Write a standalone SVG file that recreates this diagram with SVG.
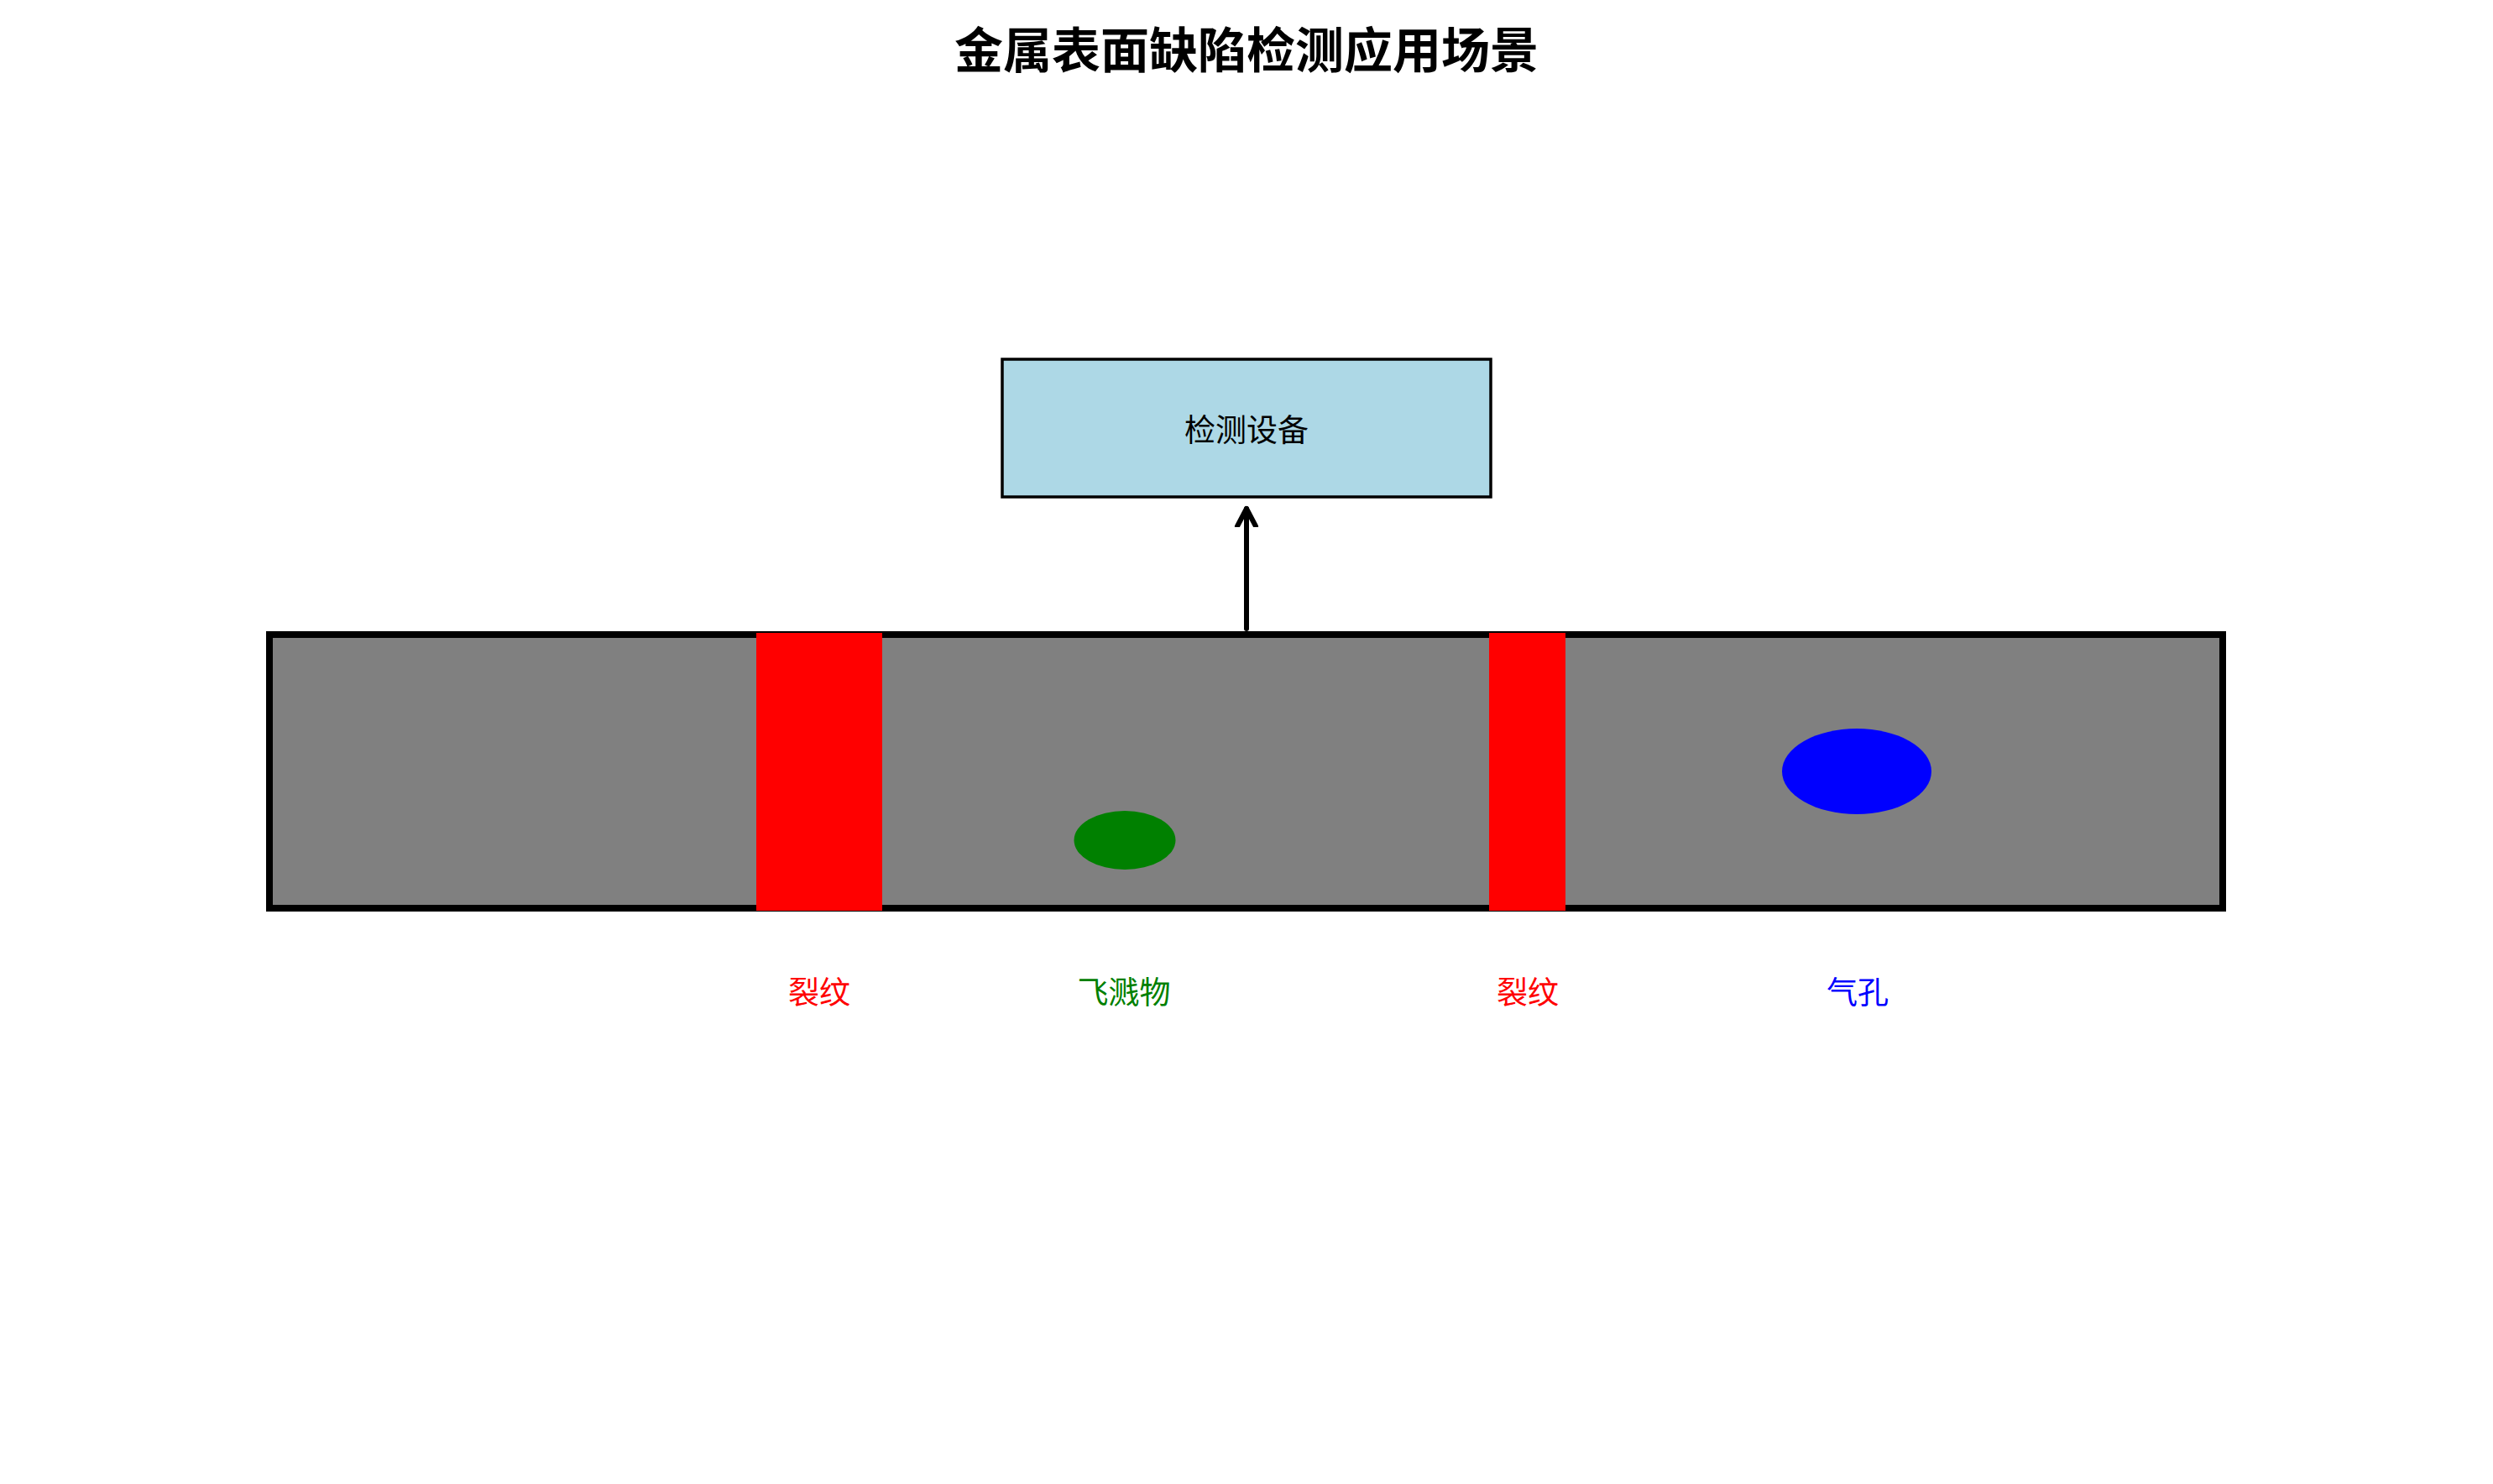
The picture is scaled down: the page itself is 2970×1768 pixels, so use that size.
<svg xmlns="http://www.w3.org/2000/svg" width="2970" height="1768" viewBox="0 0 2970 1768">
<style>
text{font-family:"Noto Sans CJK SC","Noto Sans",sans-serif;text-anchor:middle;dominant-baseline:central}
.title{font-size:58px;font-weight:bold;fill:#000}
.lbl{font-size:37px}
.crack{fill:#ff0000}
</style>
<defs>
<marker id="arr" markerUnits="userSpaceOnUse" markerWidth="30" markerHeight="30" viewBox="0 0 30 30" refX="22" refY="15" orient="auto">
<path d="M1,4 L22,15 L1,26" fill="none" stroke="#000" stroke-width="6" stroke-linecap="round" stroke-linejoin="round"/>
</marker>
</defs>
<rect width="2970" height="1768" fill="#fff"/>
<text class="title" x="1485" y="56">金属表面缺陷检测应用场景</text>
<g id="metal">
<rect x="321" y="756" width="2327" height="326" fill="#808080" stroke="#000" stroke-width="8"/>
</g>
<g id="crack1"><rect class="crack" x="901" y="754" width="150" height="331"/></g>
<g id="crack2"><rect class="crack" x="1774" y="754" width="91" height="331"/></g>
<g id="spatter"><ellipse cx="1340" cy="1001" rx="60.5" ry="35" fill="#008000"/></g>
<g id="pore"><ellipse cx="2212" cy="919" rx="89" ry="51" fill="#0000ff"/></g>
<g id="device">
<rect x="1194" y="428" width="582" height="164" fill="#add8e6" stroke="#000" stroke-width="3.5"/>
<text class="lbl" x="1485" y="510" fill="#000">检测设备</text>
</g>
<g id="connectors">
<line x1="1485" y1="749" x2="1485" y2="606" stroke="#000" stroke-width="6" stroke-linecap="round" marker-end="url(#arr)"/>
</g>
<g id="labels">
<text class="lbl" x="976" y="1180" fill="#ff0000">裂纹</text>
<text class="lbl" x="1339" y="1180" fill="#008000">飞溅物</text>
<text class="lbl" x="1820" y="1180" fill="#ff0000">裂纹</text>
<text class="lbl" x="2213" y="1180" fill="#0000ff">气孔</text>
</g>
</svg>
